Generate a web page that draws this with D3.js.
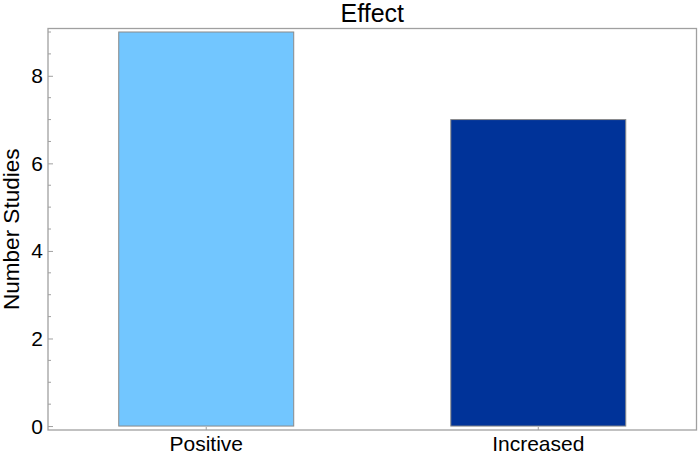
<!DOCTYPE html>
<html lang="en">
<head>
    <meta charset="UTF-8">
    <title>Effect</title>
    <script src="https://cdn.jsdelivr.net/npm/d3@7"></script>
    <style>
        body { margin: 0; background: #fff; }
        svg { display: block; font-family: "Liberation Sans", Arial, sans-serif; }
    </style>
</head>
<body>
    <svg width="700" height="454"></svg>

    <script>
        // data
        var categories = ["Positive", "Increased"];
        var counts = [9, 7];
        var colors = ["#72C6FF", "#003399"];
        var yTicks = [0, 2, 4, 6, 8];

        var svg = d3.select("svg");
        // note: "top" is taken by window.top, so use other names
        var mLeft = 48, mRight = 696.5, mTop = 28.5, mBottom = 430;

        const x = d3.scaleBand()
            .domain(categories)
            .range([mLeft, mRight])
            .paddingInner(0.473)
            .paddingOuter(0.213);

        const y = d3.scaleLinear()
            .domain([-0.09, 9.08])
            .range([mBottom, mTop]);

        // frame
        svg.append("rect")
            .attr("x", mLeft)
            .attr("y", mTop)
            .attr("width", mRight - mLeft)
            .attr("height", mBottom - mTop)
            .attr("fill", "none")
            .attr("stroke", "#a0a0a0")
            .attr("stroke-width", 1.3);

        // bars
        svg.selectAll(".bar")
            .data(counts)
          .enter().append("rect")
            .attr("class", "bar")
            .attr("x", (d, i) => x(categories[i]))
            .attr("y", d => y(d))
            .attr("width", x.bandwidth())
            .attr("height", d => y(0) - y(d))
            .attr("fill", (d, i) => colors[i])
            .attr("stroke", "#8a8a8a")
            .attr("stroke-width", 1);

        // y axis ticks (inward) + minor ticks
        const minor = d3.range(0, 9.01, 0.5).filter(v => yTicks.indexOf(v) < 0);
        svg.selectAll(".minor")
            .data(minor)
          .enter().append("line")
            .attr("x1", mLeft).attr("x2", mLeft + 3)
            .attr("y1", d => y(d)).attr("y2", d => y(d))
            .attr("stroke", "#a0a0a0");

        const yAxis = d3.axisRight(y)
            .tickValues(yTicks)
            .tickSize(5)
            .tickFormat("");
        svg.append("g")
            .attr("transform", `translate(${mLeft},0)`)
            .call(yAxis)
            .call(g => g.select(".domain").remove())
            .call(g => g.selectAll("line").attr("stroke", "#a0a0a0"));

        svg.selectAll(".ylab")
            .data(yTicks)
          .enter().append("text")
            .attr("x", mLeft - 5)
            .attr("y", d => y(d))
            .attr("dy", "0.36em")
            .attr("text-anchor", "end")
            .attr("font-size", 21)
            .text(d => d);

        // x tick marks at bar centers
        svg.selectAll(".xtick")
            .data(categories)
          .enter().append("line")
            .attr("x1", d => x(d) + x.bandwidth() / 2)
            .attr("x2", d => x(d) + x.bandwidth() / 2)
            .attr("y1", mBottom).attr("y2", mBottom - 3)
            .attr("stroke", "#a0a0a0");

        svg.selectAll(".xlab")
            .data(categories)
          .enter().append("text")
            .attr("x", d => x(d) + x.bandwidth() / 2)
            .attr("y", 451)
            .attr("text-anchor", "middle")
            .attr("font-size", 21)
            .text(d => d);

        // title and axis label
        svg.append("text")
            .attr("x", (mLeft + mRight) / 2)
            .attr("y", 22)
            .attr("text-anchor", "middle")
            .attr("font-size", 25)
            .text("Effect");

        svg.append("text")
            .attr("transform", `translate(19,${(mTop + mBottom) / 2}) rotate(-90)`)
            .attr("text-anchor", "middle")
            .attr("font-size", 22.5)
            .text("Number Studies");
    </script>
</body>
</html>
